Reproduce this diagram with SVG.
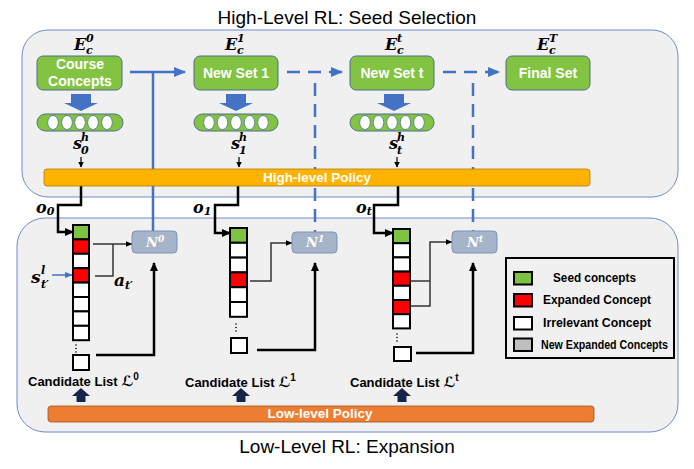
<svg xmlns="http://www.w3.org/2000/svg" width="694" height="469" viewBox="0 0 694 469">
<defs>
<style>
.panel{fill:#F0F0F0;stroke:#6E8CC8;stroke-width:1}
.title{font-family:"Liberation Sans",Arial,sans-serif;font-size:19px;fill:#000;text-anchor:middle}
.set{fill:#82C341;stroke:#4E6F8F;stroke-width:1}
.settxt{font-family:"Liberation Sans",Arial,sans-serif;font-weight:bold;font-size:14px;fill:#fff;text-anchor:middle}
.math{font-family:"DejaVu Serif","Liberation Serif",serif;font-weight:bold;font-style:italic;fill:#000}
.blue{stroke:#4472C4;stroke-width:2.5;fill:none}
.dash{stroke-dasharray:13 8}
.blk{stroke:#000;stroke-width:2.5;fill:none}
.gry{stroke:#333;stroke-width:1.5;fill:none}
.cell{stroke:#000;stroke-width:2}
.g{fill:#7DC242}.r{fill:#FF0000}.w{fill:#FFFFFF}.gr{fill:#BFBFBF}
.nbox{fill:#A6B4CA;stroke:#7A92B8;stroke-width:1}
.ntxt{font-family:"DejaVu Serif","Liberation Serif",serif;font-weight:bold;font-style:italic;fill:#fff;font-size:13px}
.lbl{font-family:"Liberation Sans",Arial,sans-serif;font-weight:bold;font-size:13px;fill:#000}
.script{font-family:"DejaVu Serif","DejaVu Sans",serif;font-style:italic;font-weight:bold}
.leg{font-family:"Liberation Sans",Arial,sans-serif;font-weight:bold;font-size:12px;fill:#000}
.pol{font-family:"Liberation Sans",Arial,sans-serif;font-weight:bold;font-size:13.5px;fill:#fff;text-anchor:middle}
.pill{fill:#82C341;stroke:#4E6F8F;stroke-width:1}
.dot{fill:#fff;stroke:#4E6F8F;stroke-width:0.8}
</style>
<marker id="ab" viewBox="0 0 12 10" refX="11" refY="5" markerWidth="12" markerHeight="10" markerUnits="userSpaceOnUse" orient="auto"><path d="M0,0 L12,5 L0,10 z" fill="#4472C4"/></marker>
<marker id="abs" viewBox="0 0 8 6" refX="7" refY="3" markerWidth="8" markerHeight="6" markerUnits="userSpaceOnUse" orient="auto"><path d="M0,0 L8,3 L0,6 z" fill="#4472C4"/></marker>
<marker id="ak" viewBox="0 0 9 8" refX="8" refY="4" markerWidth="9" markerHeight="8" markerUnits="userSpaceOnUse" orient="auto"><path d="M0,0 L9,4 L0,8 z" fill="#000"/></marker>
<marker id="ag" viewBox="0 0 7 6" refX="6.5" refY="3" markerWidth="7" markerHeight="6" markerUnits="userSpaceOnUse" orient="auto"><path d="M0,0 L7,3 L0,6 z" fill="#000"/></marker>
<marker id="at" viewBox="0 0 6 6" refX="5.5" refY="3" markerWidth="6" markerHeight="6" markerUnits="userSpaceOnUse" orient="auto"><path d="M0,0 L6,3 L0,6 z" fill="#000"/></marker>
</defs>

<rect width="694" height="469" fill="#fff"/>

<g id="panels">
<rect id="high-panel" class="panel" x="22" y="30" width="656" height="167" rx="26"/>
<rect id="low-panel" class="panel" x="17" y="218" width="661" height="214" rx="28"/>
<text class="title" x="347" y="24">High-Level RL: Seed Selection</text>
<text class="title" x="347" y="453">Low-Level RL: Expansion</text>
</g>

<g id="connectors">
<path class="blue" d="M130 72 H185" marker-end="url(#ab)"/>
<path class="blue" d="M153 72 V231"/>
<path class="blue dash" d="M287 72 H342" marker-end="url(#ab)"/>
<path class="blue dash" d="M315 83 V232"/>
<path class="blue dash" d="M443 72 H499" marker-end="url(#ab)"/>
<path class="blue dash" d="M473 83 V231"/>
<path stroke="#000" stroke-width="1.2" fill="none" d="M81 157 V167" marker-end="url(#at)"/>
<path stroke="#000" stroke-width="1.2" fill="none" d="M239 157 V167" marker-end="url(#at)"/>
<path stroke="#000" stroke-width="1.2" fill="none" d="M397 157 V167" marker-end="url(#at)"/>
<path class="blk" d="M81 186 V205 H58 V232 H73" marker-end="url(#ak)"/>
<path class="blk" d="M238 186 V205 H215 V233 H230" marker-end="url(#ak)"/>
<path class="blk" d="M398 186 V205 H374 V233 H393" marker-end="url(#ak)"/>
<path class="gry" d="M93 244 H132" marker-end="url(#ag)"/>
<path class="gry" d="M95 276 H113 V244"/>
<path class="gry" d="M250 281 H271 V243 H292" marker-end="url(#ag)"/>
<path class="gry" d="M411 281 H430"/>
<path class="gry" d="M411 306 H430 V242 H452" marker-end="url(#ag)"/>
<path class="blk" d="M96 355 H154 V263" marker-end="url(#ak)"/>
<path class="blk" d="M257 350 H315 V263" marker-end="url(#ak)"/>
<path class="blk" d="M416 353 H473 V263" marker-end="url(#ak)"/>
<path stroke="#4472C4" stroke-width="1.5" fill="none" d="M52 275 H72" marker-end="url(#abs)"/>
</g>

<g id="high-policy">
<rect x="44" y="169" width="546" height="17" rx="3" fill="#FFB300" stroke="#B07A00" stroke-width="0.8"/>
<text class="pol" x="317" y="182">High-level Policy</text>
</g>
<g id="low-policy">
<rect x="48" y="406" width="546" height="16" rx="3" fill="#ED7D31" stroke="#A0521C" stroke-width="0.8"/>
<text class="pol" x="320" y="418">Low-level Policy</text>
</g>

<g id="set0">
<text class="math" x="74" y="50" font-size="16">E<tspan x="86" y="42" font-size="11">0</tspan><tspan x="86" y="54" font-size="11">c</tspan></text>
<rect class="set" x="37" y="56" width="85" height="34" rx="6"/>
<text class="settxt" x="80" y="69" font-size="13">Course</text>
<text class="settxt" x="80" y="86" font-size="13">Concepts</text>
<path d="M71 94 H91 V103 H98 L81 111 L64 103 H71 Z" fill="#4472C4"/>
<rect class="pill" x="37" y="114" width="86" height="17" rx="8.5"/>
<g class="dot"><ellipse cx="53" cy="122.5" rx="5.3" ry="7"/><ellipse cx="67" cy="122.5" rx="5.3" ry="7"/><ellipse cx="80" cy="122.5" rx="5.3" ry="7"/><ellipse cx="93" cy="122.5" rx="5.3" ry="7"/><ellipse cx="107" cy="122.5" rx="5.3" ry="7"/></g>
<text class="math" x="73" y="149" font-size="16">s<tspan x="81" y="141" font-size="11">h</tspan><tspan x="81" y="154" font-size="11">0</tspan></text>
</g>

<g id="set1">
<text class="math" x="225" y="50" font-size="16">E<tspan x="237" y="42" font-size="11">1</tspan><tspan x="237" y="54" font-size="11">c</tspan></text>
<rect class="set" x="194" y="56" width="84" height="34" rx="6"/>
<text class="settxt" x="236" y="78">New Set 1</text>
<path d="M226 94 H246 V103 H253 L236 111 L219 103 H226 Z" fill="#4472C4"/>
<rect class="pill" x="194" y="114" width="84" height="17" rx="8.5"/>
<g class="dot"><ellipse cx="209" cy="122.5" rx="5.3" ry="7"/><ellipse cx="222.5" cy="122.5" rx="5.3" ry="7"/><ellipse cx="236" cy="122.5" rx="5.3" ry="7"/><ellipse cx="249.5" cy="122.5" rx="5.3" ry="7"/><ellipse cx="263" cy="122.5" rx="5.3" ry="7"/></g>
<text class="math" x="231" y="149" font-size="16">s<tspan x="239" y="141" font-size="11">h</tspan><tspan x="239" y="154" font-size="11">1</tspan></text>
</g>

<g id="sett">
<text class="math" x="385" y="50" font-size="16">E<tspan x="397" y="42" font-size="11">t</tspan><tspan x="397" y="54" font-size="11">c</tspan></text>
<rect class="set" x="350" y="56" width="84" height="34" rx="6"/>
<text class="settxt" x="392" y="78">New Set t</text>
<path d="M384 94 H404 V103 H411 L394 111 L377 103 H384 Z" fill="#4472C4"/>
<rect class="pill" x="350" y="114" width="84" height="17" rx="8.5"/>
<g class="dot"><ellipse cx="365" cy="122.5" rx="5.3" ry="7"/><ellipse cx="378.5" cy="122.5" rx="5.3" ry="7"/><ellipse cx="392" cy="122.5" rx="5.3" ry="7"/><ellipse cx="405.5" cy="122.5" rx="5.3" ry="7"/><ellipse cx="419" cy="122.5" rx="5.3" ry="7"/></g>
<text class="math" x="389" y="149" font-size="16">s<tspan x="397" y="141" font-size="11">h</tspan><tspan x="397" y="154" font-size="11">t</tspan></text>
</g>

<g id="setT">
<text class="math" x="537" y="50" font-size="16">E<tspan x="549" y="42" font-size="11">T</tspan><tspan x="549" y="54" font-size="11">c</tspan></text>
<rect class="set" x="506" y="56" width="84" height="34" rx="6"/>
<text class="settxt" x="548" y="78">Final Set</text>
</g>

<g id="obs-labels">
<text class="math" x="36" y="213" font-size="16">o<tspan font-size="11" dy="2">0</tspan></text>
<text class="math" x="193" y="213" font-size="16">o<tspan font-size="11" dy="2">1</tspan></text>
<text class="math" x="356" y="213" font-size="16">o<tspan font-size="11" dy="2">t</tspan></text>
</g>

<g id="list0">
<rect class="cell g" x="73" y="225" width="16" height="14.4"/>
<rect class="cell r" x="73" y="239.4" width="16" height="14.4"/>
<rect class="cell w" x="73" y="253.8" width="16" height="14.4"/>
<rect class="cell r" x="73" y="268.2" width="16" height="14.4"/>
<rect class="cell w" x="73" y="282.6" width="16" height="14.4"/>
<rect class="cell w" x="73" y="297" width="16" height="14.4"/>
<rect class="cell w" x="73" y="311.4" width="16" height="14.4"/>
<rect class="cell w" x="73" y="325.8" width="16" height="14.4"/>
<g fill="#000"><circle cx="76" cy="345" r="0.8"/><circle cx="76" cy="348.5" r="0.8"/><circle cx="76" cy="352" r="0.8"/></g>
<rect class="cell w" x="73" y="355" width="16" height="15"/>
<text class="math" x="31" y="283" font-size="17">s<tspan x="41" y="274" font-size="11">l</tspan><tspan x="41" y="288" font-size="11">t′</tspan></text>
<text class="math" x="114" y="286" font-size="17">a<tspan font-size="11" dy="3">t′</tspan></text>
<text class="lbl" x="28" y="386">Candidate List <tspan class="script" font-size="14">ℒ</tspan><tspan font-size="10" dy="-6">0</tspan></text>
<path d="M81 388 L90 396 H85.5 V402 H76.5 V396 H72 Z" fill="#17244A"/>
</g>

<g id="list1">
<rect class="cell g" x="230" y="228" width="17" height="14.8"/>
<rect class="cell w" x="230" y="242.8" width="17" height="14.8"/>
<rect class="cell w" x="230" y="257.6" width="17" height="14.8"/>
<rect class="cell r" x="230" y="272.4" width="17" height="14.8"/>
<rect class="cell w" x="230" y="287.2" width="17" height="14.8"/>
<rect class="cell w" x="230" y="302" width="17" height="14.8"/>
<g fill="#000"><circle cx="236" cy="324" r="0.8"/><circle cx="236" cy="327.5" r="0.8"/><circle cx="236" cy="331" r="0.8"/></g>
<rect class="cell w" x="231" y="338" width="16" height="15"/>
<text class="lbl" x="185" y="387">Candidate List <tspan class="script" font-size="14">ℒ</tspan><tspan font-size="10" dy="-6">1</tspan></text>
<path d="M241 388 L250 396 H245.5 V402 H236.5 V396 H232 Z" fill="#17244A"/>
</g>

<g id="listt">
<rect class="cell g" x="393" y="229" width="17" height="14.2"/>
<rect class="cell w" x="393" y="243.2" width="17" height="14.2"/>
<rect class="cell w" x="393" y="257.4" width="17" height="14.2"/>
<rect class="cell r" x="393" y="271.6" width="17" height="14.2"/>
<rect class="cell w" x="393" y="285.8" width="17" height="14.2"/>
<rect class="cell r" x="393" y="300" width="17" height="14.2"/>
<rect class="cell w" x="393" y="314.2" width="17" height="14.2"/>
<g fill="#000"><circle cx="397" cy="334" r="0.8"/><circle cx="397" cy="337.5" r="0.8"/><circle cx="397" cy="341" r="0.8"/></g>
<rect class="cell w" x="394" y="347" width="17" height="14"/>
<text class="lbl" x="350" y="387">Candidate List <tspan class="script" font-size="14">ℒ</tspan><tspan font-size="10" dy="-6">t</tspan></text>
<path d="M402 388 L411 396 H406.5 V402 H397.5 V396 H393 Z" fill="#17244A"/>
</g>

<g id="N0"><rect class="nbox" x="132" y="231" width="45" height="22" rx="4"/><text class="ntxt" x="146" y="247">N<tspan font-size="9" dy="-5">0</tspan></text></g>
<g id="N1"><rect class="nbox" x="292" y="232" width="45" height="21" rx="4"/><text class="ntxt" x="306" y="247">N<tspan font-size="9" dy="-5">1</tspan></text></g>
<g id="Nt"><rect class="nbox" x="452" y="231" width="45" height="22" rx="4"/><text class="ntxt" x="467" y="247">N<tspan font-size="9" dy="-5">t</tspan></text></g>

<g id="legend">
<rect x="506" y="258" width="168" height="100" fill="#F0F0F0" stroke="#000" stroke-width="2"/>
<rect class="cell g" x="514" y="272" width="18" height="12.5"/>
<rect class="cell r" x="514" y="294" width="18" height="12.5"/>
<rect class="cell w" x="514" y="317" width="18" height="12.5"/>
<rect class="cell gr" x="514" y="338.5" width="18" height="12.5"/>
<text class="leg" x="553" y="282" textLength="83" lengthAdjust="spacingAndGlyphs">Seed concepts</text>
<text class="leg" x="543" y="304" textLength="108" lengthAdjust="spacingAndGlyphs">Expanded Concept</text>
<text class="leg" x="543" y="327" textLength="108" lengthAdjust="spacingAndGlyphs">Irrelevant Concept</text>
<text class="leg" x="541" y="349" font-size="10.5" textLength="127" lengthAdjust="spacingAndGlyphs">New Expanded Concepts</text>
</g>
</svg>
